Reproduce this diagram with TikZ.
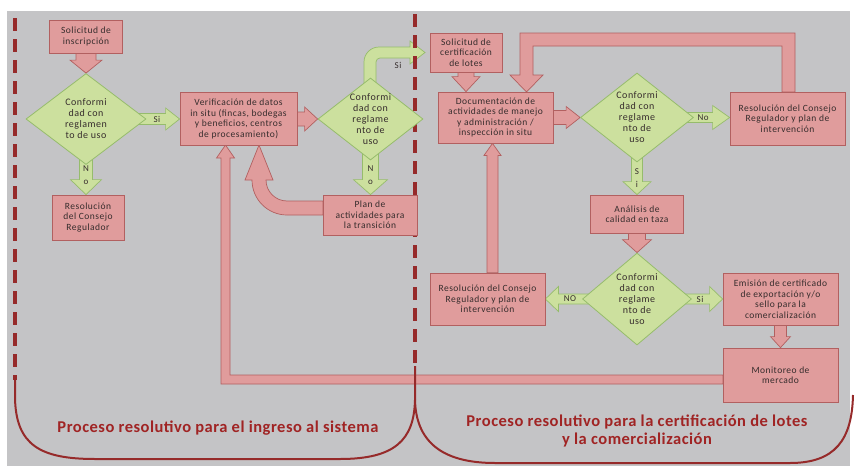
\documentclass[tikz,border=0pt]{standalone}
\usepackage{fontspec}
\setmainfont{Carlito}
\newfontfamily\boxfnt[LetterSpace=5.0]{Carlito}
\newfontfamily\ttlfnt[LetterSpace=3.0]{Carlito}
\usetikzlibrary{shapes.geometric,calc}
\definecolor{bgg}{RGB}{196,196,198}
\definecolor{boxf}{RGB}{224,156,156}
\definecolor{boxd}{RGB}{178,96,96}
\definecolor{grf}{RGB}{204,224,158}
\definecolor{grd}{RGB}{150,188,108}
\definecolor{txt}{RGB}{55,45,45}
\definecolor{dred}{RGB}{150,42,42}
\definecolor{ttl}{RGB}{160,36,36}
\pgfdeclarelayer{bgzero}
\pgfdeclarelayer{arr}
\pgfsetlayers{bgzero,arr,main}
\newcommand\barrow[6]{%
 \path[#1] let \p1=#2, \p2=#3, \n1={atan2(\y2-\y1,\x2-\x1)} in
 ($(\p1)+(\n1+90:#4)$) -- ($(\p2)+(\n1+180:#6)+(\n1+90:#4)$) -- ($(\p2)+(\n1+180:#6)+(\n1+90:#5)$) -- (\p2) -- ($(\p2)+(\n1+180:#6)+(\n1-90:#5)$) -- ($(\p2)+(\n1+180:#6)+(\n1-90:#4)$) -- ($(\p1)+(\n1-90:#4)$) -- cycle;}
\begin{document}
\begin{tikzpicture}[x=1pt,y=-1pt,
 box/.style={draw=boxd, line width=0.8pt, fill=boxf, rectangle, inner sep=1pt, align=center, font=\boxfnt\fontsize{9.5}{10.5}\selectfont, text=txt},
 dia/.style={draw=grd, line width=0.8pt, fill=grf, diamond, inner sep=0pt},
 dtext/.style={align=center, font=\boxfnt\fontsize{10}{11}\selectfont, text=txt, inner sep=0pt},
 parr/.style={draw=boxd, fill=boxf, line width=0.7pt},
 garr/.style={draw=grd, fill=grf, line width=0.7pt},
 lab/.style={font=\boxfnt\fontsize{9}{13}\selectfont, text=txt, inner sep=0pt, align=center},
 divider/.style={draw=dred, line width=3.2pt, dash pattern=on 13pt off 8pt},
 rim/.style={draw=dred, line width=2pt},
 title/.style={font=\ttlfnt\fontsize{16.5}{18.5}\selectfont\bfseries, text=ttl, align=center}]
\useasboundingbox (0,0) rectangle (857,466);
\begin{pgfonlayer}{bgzero}
\fill[bgg] (7,11) rectangle (850,466);
\end{pgfonlayer}

% nodes
\node[box, minimum width=73pt, minimum height=33pt] (S1) at (86,36.5) {Solicitud de\\inscripción};
\node[dia, minimum width=120pt, minimum height=91pt] (D1) at (86,119) {};
\node[dtext] (D1t) at (D1) {Conformi\\dad con\\reglamen\\to de uso};
\node[box, minimum width=72pt, minimum height=45pt] (R1) at (88,217.5) {Resolución\\del Consejo\\Regulador};
\node[box, minimum width=117pt, minimum height=53pt] (V) at (238.5,119) {Verificación de datos\\in situ (fincas, bodegas\\y beneficios, centros\\de procesamiento)};
\node[dia, minimum width=105pt, minimum height=82pt] (D2) at (370.5,119) {};
\node[dtext] (D2t) at (D2) {Conformi\\dad con\\reglame\\nto de\\uso};
\node[box, minimum width=94pt, minimum height=40pt] (Plan) at (370,215) {Plan de\\actividades para\\la transición};
\node[box, minimum width=72pt, minimum height=39pt] (Sol2) at (466,52.5) {Solicitud de\\certificación\\de lotes};
\node[box, minimum width=115pt, minimum height=51pt] (Doc) at (495.5,117.5) {Documentación de\\actividades de manejo\\y administración /\\inspección in situ};
\node[dia, minimum width=113pt, minimum height=89pt] (D3) at (637,117.5) {};
\node[dtext] (D3t) at (D3) {Conformi\\dad con\\reglame\\nto de\\uso};
\node[box, minimum width=115pt, minimum height=53pt] (ResR) at (787.5,118.5) {Resolución del Consejo\\Regulador y plan de\\intervención};
\node[box, minimum width=93pt, minimum height=38pt] (Ana) at (637,214) {Análisis de\\calidad en taza};
\node[dia, minimum width=109pt, minimum height=92pt] (D4) at (637,299) {};
\node[dtext] (D4t) at (D4) {Conformi\\dad con\\reglame\\nto de\\uso};
\node[box, minimum width=115pt, minimum height=52pt] (ResL) at (487.5,299) {Resolución del Consejo\\Regulador y plan de\\intervención};
\node[box, minimum width=115pt, minimum height=52pt] (Emi) at (780.5,299) {Emisión de certificado\\de exportación y/o\\sello para la\\comercialización};
\node[box, minimum width=115pt, minimum height=54pt] (Mon) at (780.5,375) {Monitoreo de\\mercado};

% arrows
\begin{pgfonlayer}{arr}
\barrow{parr}{(S1.south)}{(S1.south |- D1.north)}{10pt}{16pt}{13pt}
\barrow{garr}{(D1.center)}{(D1.center -| V.west)}{5.5pt}{11pt}{14pt}
\barrow{garr}{(D1.center)}{(D1.center |- R1.north)}{6.5pt}{15.5pt}{15pt}
\barrow{parr}{(V.east)}{(V.east -| D2.west)}{7pt}{12pt}{13pt}
\barrow{garr}{(D2.center)}{(D2.center |- Plan.north)}{8pt}{17pt}{15pt}
\barrow{parr}{(Sol2.south)}{(Sol2.south |- Doc.north)}{8pt}{14pt}{15pt}
\barrow{parr}{(Doc.east)}{(Doc.east -| D3.west)}{7pt}{11pt}{14pt}
\barrow{garr}{(D3.center)}{(D3.center -| ResR.west)}{5pt}{12pt}{17pt}
\barrow{garr}{(D3.center)}{(D3.center |- Ana.north)}{5.5pt}{14pt}{13pt}
\barrow{parr}{(Ana.south)}{(Ana.south |- D4.north)}{8.5pt}{14.5pt}{13pt}
\barrow{garr}{(D4.center)}{(D4.center -| ResL.east)}{5pt}{12.5pt}{13pt}
\barrow{garr}{(D4.center)}{(D4.center -| Emi.west)}{5pt}{12.5pt}{13pt}
\barrow{parr}{(Emi.south)}{(Emi.south |- Mon.north)}{6pt}{10pt}{11pt}
\barrow{parr}{([xshift=5pt]ResL.north)}{([xshift=5pt]ResL.north |- Doc.south)}{5.5pt}{8.5pt}{12pt}
% bent green arrow from D2 upward
\path[garr] (364,100) -- (364,62) arc[start angle=180,end angle=270,radius=15] -- (410,47) -- (410,41) -- (425,52.5) -- (410,64) -- (410,58) -- (380,58) arc[start angle=270,end angle=180,radius=4] -- (376,100) -- cycle;
% curved pink arrow Plan -> V
\path[parr] (323,215) -- (287,215) arc[start angle=90,end angle=180,radius=35] -- (245,180) -- (259,145) -- (273,180) -- (266,180) arc[start angle=180,end angle=90,radius=21] -- (323,201) -- cycle;
% loop arrow ResR -> Doc
\path[parr] (782,92) -- (782,46) -- (533,46) -- (533,75) -- (543,75) -- (526.5,92) -- (510,75) -- (520,75) -- (520,33) -- (795,33) -- (795,92) -- cycle;
% long return Mon -> V
\path[parr] (723,375) -- (230,375) -- (230,158) -- (234.5,158) -- (225.5,145) -- (216.5,158) -- (221,158) -- (221,384) -- (723,384) -- cycle;
% dividers and rims
\draw[divider] (15,18) -- (15,380);
\draw[divider] (415,14) -- (415,370);
\draw[rim] (15,376) -- (15,398) .. controls (16,445) and (40,459) .. (95,459) -- (340,459) .. controls (395,459) and (414,440) .. (415,400) -- (415,366);
\draw[rim] (415,400) .. controls (416,440) and (440,463) .. (495,463) -- (790,463) .. controls (835,463) and (852,440) .. (853,395);
\end{pgfonlayer}

% labels
\node[lab] (l1) at (157,119) {Si};
\node[lab] (l2) at (86,175) {N\\o};
\node[lab] (l3) at (398,65) {Si};
\node[lab] (l4) at (370.5,175) {N\\o};
\node[lab] (l5) at (703,117.5) {No};
\node[lab] (l6) at (637,178) {S\\i};
\node[lab] (l7) at (570,299) {NO};
\node[lab] (l8) at (700,299) {Si};

\node[title] (T1) at (218,428) {Proceso resolutivo para el ingreso al sistema};
\node[title] (T2) at (637,431) {Proceso resolutivo para la certificación de lotes\\y la comercialización};
\end{tikzpicture}
\end{document}
